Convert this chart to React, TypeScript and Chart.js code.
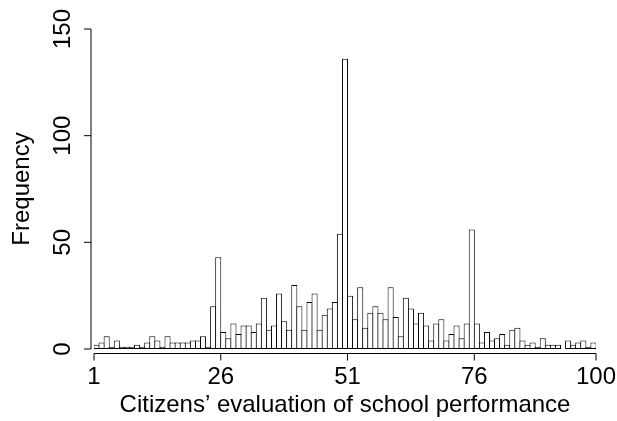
import React, { useEffect, useRef } from "react";
import { Chart, registerables } from "chart.js";

Chart.register(...registerables);

// Histogram bins: each bin spans [start, start + 1]
const binStarts = [
  1, 2, 3, 4, 5, 6, 7, 8, 9, 10, 11, 12, 13, 14, 15, 16, 17, 18, 19, 20,
  21, 22, 23, 24, 25, 26, 27, 28, 29, 30, 31, 32, 33, 34, 35, 36, 37, 38, 39, 40,
  41, 42, 43, 44, 45, 46, 47, 48, 49, 50, 51, 52, 53, 54, 55, 56, 57, 58, 59, 60,
  61, 62, 63, 64, 65, 66, 67, 68, 69, 70, 71, 72, 73, 74, 75, 76, 77, 78, 79, 80,
  81, 82, 83, 84, 85, 86, 87, 88, 89, 90, 91, 92, 93, 94, 95, 96, 97, 98, 99,
];

const frequencies = [
  2, 3, 6, 1, 4, 1, 1, 1, 2, 1, 3, 6, 4, 1, 6, 3, 3, 3, 3, 4,
  4, 6, 1, 20, 43, 8, 5, 12, 7, 11, 11, 8, 12, 24, 9, 11, 26, 13, 9, 30,
  20, 9, 22, 26, 9, 16, 19, 22, 54, 136, 25, 14, 29, 10, 17, 20, 17, 14, 29, 15,
  6, 24, 19, 12, 17, 11, 4, 12, 14, 4, 7, 11, 5, 12, 56, 12, 3, 8, 4, 5,
  7, 2, 9, 10, 4, 2, 3, 1, 5, 2, 2, 2, 0, 4, 2, 3, 4, 1, 3,
];

const xTickValues = [1, 26, 51, 76, 100];
const yTickValues = [0, 50, 100, 150];

const xTitle = "Citizens\u2019 evaluation of school performance";
const yTitle = "Frequency";

const FONT = '24px "Liberation Sans", Arial, Helvetica, sans-serif';

const rAxesPlugin = {
  id: "rAxes",
  afterDraw(chart: any) {
    const ctx = chart.ctx as CanvasRenderingContext2D;
    const xs = chart.scales.x;
    const ys = chart.scales.y;
    ctx.save();
    ctx.strokeStyle = "#000";
    ctx.fillStyle = "#000";
    ctx.lineWidth = 1;

    // X axis (R style, offset below the bars)
    const x0 = xs.getPixelForValue(xTickValues[0]);
    const x1 = xs.getPixelForValue(xTickValues[xTickValues.length - 1]);
    const axisY = Math.round(ys.getPixelForValue(0)) + 4.5;
    ctx.beginPath();
    ctx.moveTo(x0, axisY);
    ctx.lineTo(x1, axisY);
    xTickValues.forEach((v) => {
      const px = xs.getPixelForValue(v);
      ctx.moveTo(px, axisY);
      ctx.lineTo(px, axisY + 7);
    });
    ctx.stroke();

    ctx.font = FONT;
    ctx.textAlign = "center";
    ctx.textBaseline = "middle";
    xTickValues.forEach((v) => {
      ctx.fillText(String(v), xs.getPixelForValue(v), axisY + 24);
    });
    ctx.fillText(xTitle, (x0 + x1) / 2, axisY + 52);

    // Y axis
    const yTop = ys.getPixelForValue(yTickValues[yTickValues.length - 1]);
    const yBot = ys.getPixelForValue(yTickValues[0]);
    const axisX = Math.round(xs.getPixelForValue(1)) - 3;
    ctx.beginPath();
    ctx.moveTo(axisX, yBot);
    ctx.lineTo(axisX, yTop);
    yTickValues.forEach((v) => {
      const py = ys.getPixelForValue(v);
      ctx.moveTo(axisX, py);
      ctx.lineTo(axisX - 7, py);
    });
    ctx.stroke();

    yTickValues.forEach((v) => {
      const py = ys.getPixelForValue(v);
      ctx.save();
      ctx.translate(axisX - 28, py);
      ctx.rotate(-Math.PI / 2);
      ctx.fillText(String(v), 0, 0);
      ctx.restore();
    });

    ctx.save();
    ctx.translate(axisX - 69, (yTop + yBot) / 2);
    ctx.rotate(-Math.PI / 2);
    ctx.fillText(yTitle, 0, 0);
    ctx.restore();

    ctx.restore();
  },
};

export default function App() {
  const canvasRef = useRef<HTMLCanvasElement | null>(null);

  useEffect(() => {
    const canvas = canvasRef.current;
    if (!canvas) return;
    const points = binStarts.map((s, i) => ({ x: s + 0.5, y: frequencies[i] }));
    const chart = new Chart(canvas, {
      type: "bar",
      data: {
        datasets: [
          {
            data: points as any,
            backgroundColor: "#ffffff",
            borderColor: "#000000",
            borderWidth: 1,
            borderSkipped: false,
            inflateAmount: 0,
            barPercentage: 1.197,
            categoryPercentage: 1,
          } as any,
        ],
      },
      options: {
        responsive: false,
        animation: false,
        devicePixelRatio: 1,
        layout: { padding: { left: 94, right: 21, top: 29, bottom: 72 } },
        plugins: {
          legend: { display: false },
          tooltip: { enabled: false },
          title: { display: false },
        },
        scales: {
          x: {
            type: "linear",
            min: 1,
            max: 100,
            offset: false,
            display: false,
          },
          y: {
            type: "linear",
            min: 0,
            max: 150,
            display: false,
          },
        },
      },
      plugins: [rAxesPlugin],
    });
    return () => chart.destroy();
  }, []);

  return (
    <div style={{ position: "fixed", left: 0, top: 0, width: 617, height: 421, background: "#fff" }}>
      <canvas ref={canvasRef} width={617} height={421} style={{ display: "block" }} />
    </div>
  );
}
